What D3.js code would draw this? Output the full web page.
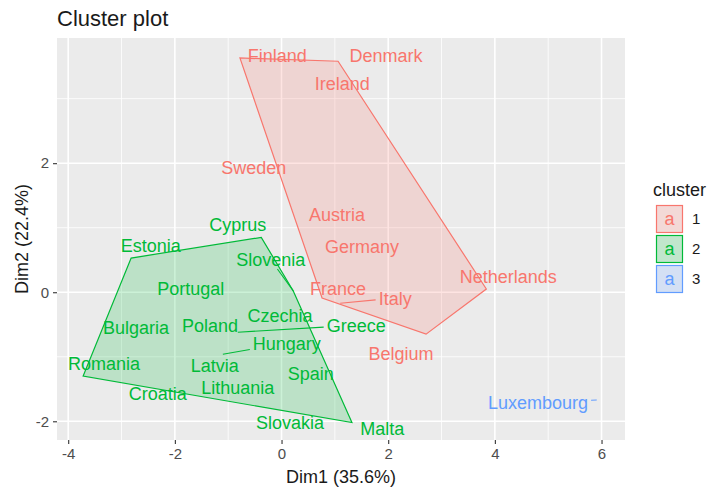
<!DOCTYPE html>
<html>
<head>
<meta charset="utf-8">
<script src="https://cdn.jsdelivr.net/npm/d3@7"></script>
<style>
  body { margin: 0; background: #ffffff; }
  text { font-family: "Liberation Sans", Arial, sans-serif; }
</style>
</head>
<body>
<svg id="chart" width="709" height="491"></svg>
<script>
// Countries and their k-means cluster
const countries = ["Finland","Denmark","Ireland","Sweden","Austria","Germany","France","Italy","Netherlands","Belgium",
  "Cyprus","Estonia","Slovenia","Portugal","Czechia","Poland","Greece","Bulgaria","Hungary","Romania",
  "Latvia","Spain","Lithuania","Croatia","Slovakia","Malta","Luxembourg"];
const cluster = [1,1,1,1,1,1,1,1,1,1, 2,2,2,2,2,2,2,2,2,2, 2,2,2,2,2,2, 3];

// PCA scores (Dim1, Dim2)
const dim1 = [-0.78, 1.06, 1.14, 0.03, 1.04, 1.51, 0.76, 1.10, 3.84, 2.71,
  -0.38, -2.82, 0.22, -1.70, -0.03, -1.34, -0.82, -2.73, -1.10, -3.72,
  -1.25, 0.55, -0.82, -2.32, 0.16, 1.32, 5.91];
const dim2 = [3.63, 3.58, 3.24, 1.92, 1.21, 0.71, -0.09, -0.17, 0.05, -0.65,
  0.85, 0.53, 0.02, 0.06, -0.36, -0.51, -0.62, -0.54, -0.96, -1.30,
  -1.13, -1.26, -1.47, -1.44, -1.80, -2.02, -1.67];

// Repelled label positions (label centres, same units)
const labelDim1 = [-0.08, 1.96, 1.14, -0.52, 1.04, 1.51, 1.06, 2.13, 4.25, 2.24,
  -0.82, -2.45, -0.20, -1.70, -0.03, -1.34, 1.40, -2.73, 0.10, -3.33,
  -1.25, 0.55, -0.82, -2.32, 0.16, 1.89, 4.81];
const labelDim2 = [3.67, 3.67, 3.24, 1.94, 1.21, 0.71, 0.06, -0.09, 0.25, -0.95,
  1.05, 0.73, 0.50, 0.06, -0.36, -0.51, -0.51, -0.54, -0.79, -1.10,
  -1.13, -1.26, -1.47, -1.57, -2.02, -2.11, -1.71];

// Labels pushed away from their point, joined by a leader line
const linkedLabels = ["Italy","Greece","Hungary","Slovenia","Luxembourg"];

const clusterIds = [1, 2, 3];
const clusterColors = ["#F8766D", "#00BA38", "#619CFF"];
const xTicks = [-4, -2, 0, 2, 4, 6];
const yTicks = [-2, 0, 2];
const xMinor = [-3, -1, 1, 3, 5];
const yMinor = [-1, 1, 3];

const svg = d3.select("#chart");
const panel = { left: 57, right: 625, top: 38, bottom: 440 };

const x = d3.scaleLinear().domain([-4.21, 6.44]).range([panel.left, panel.right]);
const y = d3.scaleLinear().domain([-2.29, 3.94]).range([panel.bottom, panel.top]);
const color = d3.scaleOrdinal().domain(clusterIds).range(clusterColors);

// Title
svg.append("text").attr("x", 57).attr("y", 26)
  .attr("font-size", 22).attr("fill", "#1a1a1a").text("Cluster plot");

// Panel background and grid
svg.append("rect").attr("x", panel.left).attr("y", panel.top)
  .attr("width", panel.right - panel.left).attr("height", panel.bottom - panel.top)
  .attr("fill", "#EBEBEB");

const grid = svg.append("g");
grid.selectAll(".xmin").data(xMinor).join("line")
  .attr("x1", d => x(d)).attr("x2", d => x(d)).attr("y1", panel.top).attr("y2", panel.bottom)
  .attr("stroke", "#fff").attr("stroke-width", 0.8);
grid.selectAll(".ymin").data(yMinor).join("line")
  .attr("y1", d => y(d)).attr("y2", d => y(d)).attr("x1", panel.left).attr("x2", panel.right)
  .attr("stroke", "#fff").attr("stroke-width", 0.8);
grid.selectAll(".xmaj").data(xTicks).join("line")
  .attr("x1", d => x(d)).attr("x2", d => x(d)).attr("y1", panel.top).attr("y2", panel.bottom)
  .attr("stroke", "#fff").attr("stroke-width", 1.6);
grid.selectAll(".ymaj").data(yTicks).join("line")
  .attr("y1", d => y(d)).attr("y2", d => y(d)).attr("x1", panel.left).attr("x2", panel.right)
  .attr("stroke", "#fff").attr("stroke-width", 1.6);

// Axes
const fmt = d => String(d);
const xAxis = svg.append("g").attr("transform", `translate(0,${panel.bottom})`)
  .call(d3.axisBottom(x).tickValues(xTicks).tickFormat(fmt).tickSize(4).tickPadding(4));
const yAxis = svg.append("g").attr("transform", `translate(${panel.left},0)`)
  .call(d3.axisLeft(y).tickValues(yTicks).tickFormat(fmt).tickSize(4).tickPadding(4));
[xAxis, yAxis].forEach(a => {
  a.select(".domain").remove();
  a.selectAll(".tick line").attr("stroke", "#333333").attr("stroke-width", 1.1);
  a.selectAll(".tick text").attr("fill", "#4D4D4D").attr("font-size", 15)
    .attr("font-family", "'Liberation Sans', Arial, sans-serif");
});

svg.append("text").attr("x", (panel.left + panel.right) / 2).attr("y", 483)
  .attr("text-anchor", "middle").attr("font-size", 18).attr("fill", "#1a1a1a")
  .text("Dim1 (35.6%)");
svg.append("text").attr("transform", `translate(28,${(panel.top + panel.bottom) / 2}) rotate(-90)`)
  .attr("text-anchor", "middle").attr("font-size", 18).attr("fill", "#1a1a1a")
  .text("Dim2 (22.4%)");

// Rows of observations
const rows = countries.map((name, i) => ({
  name, cluster: cluster[i], px: x(dim1[i]), py: y(dim2[i]),
  lx: x(labelDim1[i]), ly: y(labelDim2[i])
}));

// Convex hull for each cluster
const hullLayer = svg.append("g");
clusterIds.forEach(c => {
  const pts = rows.filter(r => r.cluster === c).map(r => [r.px, r.py]);
  const hull = pts.length >= 3 ? d3.polygonHull(pts) : null;
  if (!hull) return;
  hullLayer.append("path")
    .attr("d", "M" + hull.map(p => p.join(",")).join("L") + "Z")
    .attr("fill", color(c)).attr("fill-opacity", 0.2)
    .attr("stroke", color(c)).attr("stroke-width", 1.2);
});

// Labels and leader lines
const linkLayer = svg.append("g");
const labelLayer = svg.append("g");
rows.forEach(r => {
  const t = labelLayer.append("text")
    .attr("x", r.lx).attr("y", r.ly).attr("dy", "0.36em")
    .attr("text-anchor", "middle").attr("font-size", 18)
    .attr("fill", color(r.cluster)).text(r.name);
  if (!linkedLabels.includes(r.name)) return;
  const b = t.node().getBBox();
  const box = { x0: b.x - 3, x1: b.x + b.width + 3, y0: r.ly - 9, y1: r.ly + 9 };
  const dx = r.lx - r.px, dy = r.ly - r.py;
  let tEnter = 0;
  if (dx !== 0) tEnter = Math.max(tEnter, ((dx > 0 ? box.x0 : box.x1) - r.px) / dx);
  if (dy !== 0) tEnter = Math.max(tEnter, ((dy > 0 ? box.y0 : box.y1) - r.py) / dy);
  tEnter = Math.min(1, tEnter);
  linkLayer.append("line")
    .attr("x1", r.px).attr("y1", r.py)
    .attr("x2", r.px + dx * tEnter).attr("y2", r.py + dy * tEnter)
    .attr("stroke", color(r.cluster)).attr("stroke-width", 1.1);
});

// Legend
const legend = svg.append("g");
legend.append("text").attr("x", 653).attr("y", 196)
  .attr("font-size", 18).attr("fill", "#1a1a1a").text("cluster");
clusterIds.forEach((c, i) => {
  const top = 205 + i * 30;
  legend.append("rect").attr("x", 656).attr("y", top).attr("width", 27).attr("height", 28)
    .attr("fill", "#F2F2F2");
  legend.append("rect").attr("x", 656.5).attr("y", top + 0.5).attr("width", 26).attr("height", 27)
    .attr("fill", color(c)).attr("fill-opacity", 0.2)
    .attr("stroke", color(c)).attr("stroke-width", 1.2);
  legend.append("text").attr("x", 669.5).attr("y", top + 14).attr("dy", "0.36em")
    .attr("text-anchor", "middle").attr("font-size", 18).attr("fill", color(c)).text("a");
  legend.append("text").attr("x", 692).attr("y", top + 14).attr("dy", "0.36em")
    .attr("font-size", 15).attr("fill", "#1a1a1a").text(String(c));
});
</script>
</body>
</html>
